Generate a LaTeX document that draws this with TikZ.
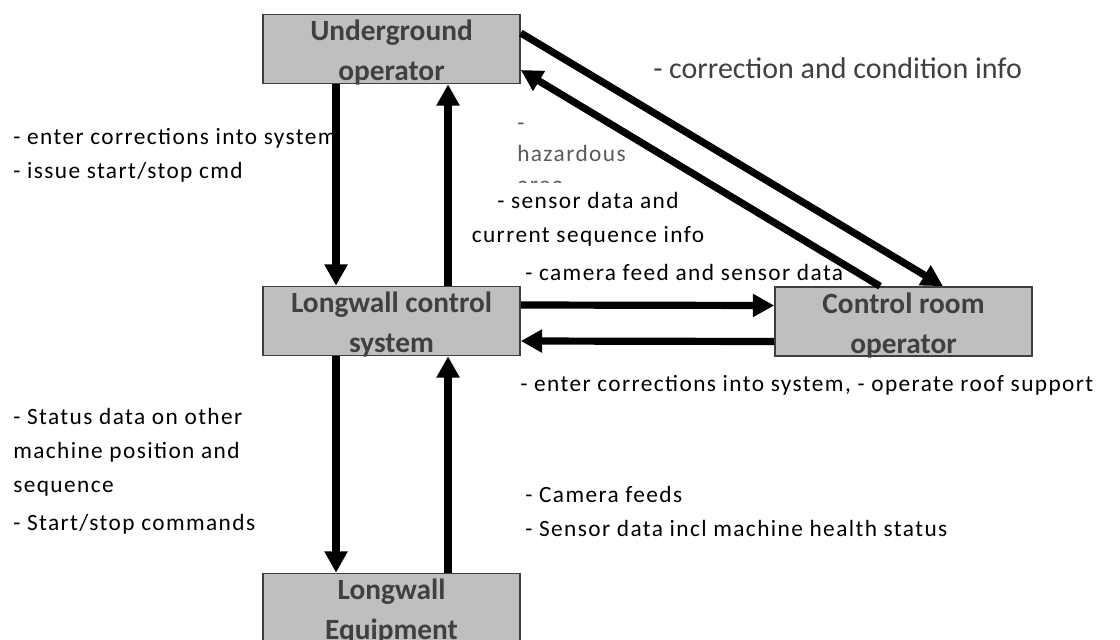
\documentclass[tikz,border=0pt]{standalone}
\usepackage{fontspec}
\setmainfont{Carlito}
\newfontfamily\lblfont{Carlito}[LetterSpace=6]
\usetikzlibrary{arrows.meta}
\definecolor{boxgray}{HTML}{BFBFBF}
\definecolor{edgegray}{HTML}{3F3F3F}
\definecolor{txtgray}{HTML}{404040}
\definecolor{hazgray}{HTML}{5A5A5A}
% two centred lines, set a little low in the box
\newcommand{\boxlbl}[2]{\raisebox{-3pt}[\height][\depth]{\vbox{\baselineskip=30pt\halign{\hfil##\hfil\cr #1\cr #2\cr}}}}

\begin{document}
\begin{tikzpicture}[
  x=0.75pt, y=-0.75pt,
  box/.style={draw=edgegray, line width=1.2pt, fill=boxgray, text=txtgray, font=\fontsize{22}{30}\selectfont\bfseries, minimum width=192.75pt, minimum height=51.75pt, inner sep=0pt},
  lbl/.style={align=left, inner sep=0pt, font=\lblfont\fontsize{17.5}{25.5}\selectfont},
  arr/.style={-{Triangle[length=16pt, width=16.5pt]}, line width=5.4pt}
]
\clip (0,0) rectangle (1120,639);
\node[box] (uo) at (391.5,49) {\boxlbl{Underground}{operator}};
\node[box] (lcs) at (391.5,321) {\boxlbl{Longwall control}{system}};
\node[box] (cro) at (903.5,321.5) {\boxlbl{Control room}{operator}};
\node[box] (le) at (391.5,608) {\boxlbl{Longwall}{Equipment}};
% labels
\node[lbl, anchor=west] (corrsys) at (13,155) {- enter corrections into system\\- issue start/stop cmd};
\node[font=\fontsize{22.5}{27}\selectfont, text=txtgray, anchor=west, inner sep=0pt] (corrinfo) at (653,68) {- correction and condition info};
\begin{scope}
  \clip (500,100) rectangle (700,182);
  \node[lbl, text=hazgray, anchor=west, font=\lblfont\fontsize{17.5}{23.25}\selectfont] (haz) at (517,155) {\strut-\\hazardous\\area\strut};
\end{scope}
\node[lbl, align=center] (seninfo) at (588,219) {- sensor data and\\current sequence info};
\node[lbl, anchor=west] (camdata) at (525,272) {- camera feed and sensor data};
\node[lbl, anchor=west] (entsys) at (520,385) {- enter corrections into system, - operate roof support};
\node[lbl, anchor=west] (status) at (13,471) {- Status data on other\\machine position and\\sequence\\[3pt]- Start/stop commands};
\node[lbl, anchor=west] (camfeeds) at (525,511) {- Camera feeds\\- Sensor data incl machine health status};
% arrows
\draw[arr] ([xshift=-41.6pt]uo.south) -- ([xshift=-41.6pt]lcs.north);
\draw[arr] ([xshift=42.4pt]lcs.north) -- ([xshift=42.4pt]uo.south);
\draw[arr] ([xshift=-41.6pt]lcs.south) -- ([xshift=-41.6pt]le.north);
\draw[arr] ([xshift=42.4pt]le.north) -- ([xshift=42.4pt]lcs.south);
\draw[arr] ([yshift=12pt]lcs.east) -- ([yshift=12pt]cro.west);
\draw[arr] ([yshift=-15pt]cro.west) -- ([yshift=-15pt]lcs.east);
\draw[arr] ([yshift=12pt]uo.east) -- ([xshift=29.6pt]cro.north);
\draw[arr] ([xshift=-17.6pt]cro.north) -- ([yshift=-15.75pt]uo.east);
\end{tikzpicture}
\end{document}
